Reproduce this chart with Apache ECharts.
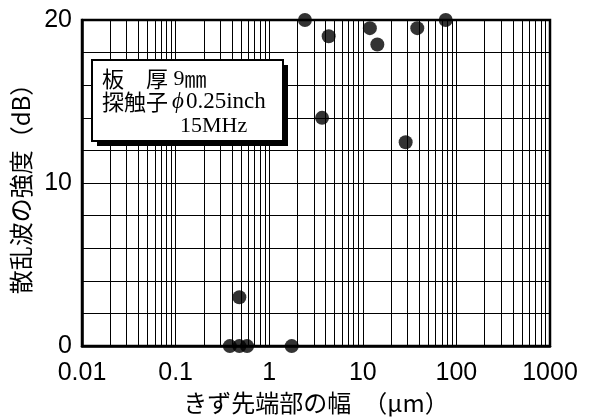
<!DOCTYPE html>
<html><head><meta charset="utf-8">
<script src="https://cdn.jsdelivr.net/npm/echarts@6/dist/echarts.min.js"></script>
<style>html,body{margin:0;padding:0;background:#fff}#c{width:590px;height:420px}</style>
</head><body><div id="c"></div>
<script>
const xTickLabels = ['0.01','0.1','1','10','100','1000'];
const yTickLabels = ['0','10','20'];
const widthUm     = [0.38, 0.48, 0.58, 1.74, 0.48, 2.41, 4.32, 11.9, 14.3, 38.2, 76.9, 3.67, 28.7];
const intensityDb = [0,    0,    0,    0,    3,    20,   19,   19.5, 18.5, 19.5, 20,   14,   12.5];
const decades = [0.01, 0.1, 1, 10, 100];
const minorSteps = [2,3,4,5,6,7,8,9];

const points = widthUm.map((w,i)=>[w,intensityDb[i]]);
const minorLines = [];
decades.forEach(d=>minorSteps.forEach(m=>minorLines.push({xAxis: +(d*m).toPrecision(3)})));

const CJK = '"Noto Sans CJK JP"';
const SERIF = '"Liberation Serif"';
const chart = echarts.init(document.getElementById('c'));
chart.setOption({
  animation:false,
  backgroundColor:'#fff',
  grid:{left:82,right:40,top:20,bottom:73,show:true,borderColor:'#000',borderWidth:2.5},
  xAxis:{type:'log',logBase:10,min:0.01,max:1000,
    name:'きず先端部の幅　（μm）',nameLocation:'middle',nameGap:41,
    nameTextStyle:{fontFamily:CJK,fontSize:24,color:'#000'},
    axisLine:{lineStyle:{color:'#000',width:2.5}},
    axisTick:{show:false},
    axisLabel:{color:'#000',fontFamily:'"Liberation Sans"',fontSize:25,margin:15,
      formatter:v=>{const i=Math.round(Math.log10(v))+2;return xTickLabels[i]||'';}},
    splitLine:{show:true,lineStyle:{color:'#000',width:1}}},
  yAxis:{type:'value',min:0,max:20,interval:2,
    name:'散乱波の強度（dB）',nameLocation:'middle',nameGap:45,nameRotate:90,
    nameTextStyle:{fontFamily:CJK,fontSize:24,color:'#000'},
    axisLine:{lineStyle:{color:'#000',width:2.5}},
    axisTick:{show:false},
    axisLabel:{color:'#000',fontFamily:'"Liberation Sans"',fontSize:25,margin:10,
      formatter:v=>{const s=String(v);return yTickLabels.includes(s)?s:'';}},
    splitLine:{show:true,lineStyle:{color:'#000',width:1}}},
  series:[
    {type:'scatter',data:[],silent:true,z:1,
      markLine:{silent:true,symbol:'none',animation:false,label:{show:false},
        lineStyle:{color:'#000',width:1,type:'solid'},data:minorLines}},
    {type:'scatter',data:points,symbol:'circle',symbolSize:14,clip:false,z:5,
      itemStyle:{color:'#000'}}
  ],
  graphic:[
    {type:'rect',left:97,top:65,z:100,shape:{width:191,height:81},style:{fill:'#000'}},
    {type:'rect',left:91,top:59,z:101,shape:{width:191,height:81},style:{fill:'#fff',stroke:'#000',lineWidth:2}},
    {type:'text',x:102,y:79,z:102,style:{text:'{c|板　厚}{s| 9}{c|㎜}',verticalAlign:'middle',
      rich:{c:{fontFamily:CJK,fontSize:22,fill:'#000'},s:{fontFamily:SERIF,fontSize:22,fill:'#000'}}}},
    {type:'text',x:102,y:102,z:102,style:{text:'{c|探触子}{p|ϕ}{s|0.25inch}',verticalAlign:'middle',
      rich:{c:{fontFamily:CJK,fontSize:22,fill:'#000'},p:{fontFamily:SERIF,fontStyle:'italic',fontSize:23,fill:'#000',padding:[0,2,0,4]},s:{fontFamily:SERIF,fontSize:23,fill:'#000'}}}},
    {type:'text',x:180,y:126,z:102,style:{text:'15MHz',verticalAlign:'middle',fontFamily:SERIF,fontSize:22,fill:'#000'}}
  ]
});
</script></body></html>
